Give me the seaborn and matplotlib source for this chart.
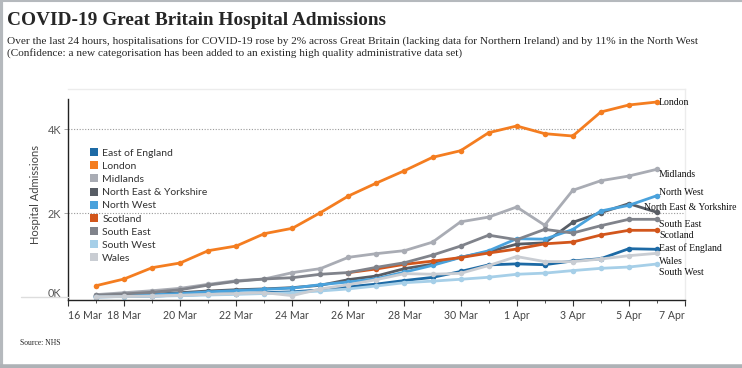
import numpy as np
import pandas as pd
import matplotlib
matplotlib.use("Agg")
import matplotlib.pyplot as plt
import matplotlib.dates as mdates
import matplotlib.transforms as mtransforms
from matplotlib.lines import Line2D
import seaborn as sns


# -----------------------
# Data (17 Mar - 6 Apr 2020)
# -----------------------

dates = pd.date_range("2020-03-17", "2020-04-06", freq="D")

regions = [
    "East of England", "London", "Midlands", "North East & Yorkshire",
    "North West", "Scotland", "South East", "South West", "Wales",
]

east_of_england = [10, 20, 30, 50, 70, 90, 110, 130, 174, 250, 315, 400, 474,
                   615, 772, 796, 776, 866, 920, 1157, 1143]
london = [276, 436, 705, 817, 1110, 1221, 1515, 1643, 2015, 2412, 2721, 3015,
          3333, 3490, 3919, 4079, 3896, 3840, 4412, 4579, 4650]
midlands = [64, 110, 157, 214, 310, 395, 436, 587, 683, 952, 1040, 1111, 1313,
            1797, 1910, 2150, 1717, 2548, 2776, 2888, 3048]
ne_yorkshire = [30, 50, 70, 110, 150, 180, 200, 230, 286, 421, 508, 683, 787,
                954, 1085, 1265, 1297, 1785, 2015, 2230, 2024]
north_west = [25, 45, 60, 90, 130, 160, 190, 220, 300, 365, 444, 600, 760,
              948, 1108, 1394, 1385, 1614, 2055, 2190, 2420]
scotland = [np.nan] * 9 + [587, 675, 786, 861, 946, 1054, 1149, 1273, 1316,
                           1483, 1595, 1595]
south_east = [50, 80, 120, 180, 290, 380, 436, 467, 548, 590, 714, 824, 1005,
              1220, 1479, 1372, 1618, 1530, 1705, 1857, 1857]
south_west = [10, 15, 25, 40, 55, 70, 90, 110, 150, 200, 270, 348, 385, 429,
              477, 548, 576, 636, 690, 721, 793]
wales = [10, 20, 30, 50, 70, 90, 110, 40, 200, 300, 420, 563, 550, 571, 757,
         970, 850, 850, 912, 991, 1047]

series = [east_of_england, london, midlands, ne_yorkshire, north_west,
          scotland, south_east, south_west, wales]

palette = {
    "East of England": "#1d6aa5",
    "London": "#f47d20",
    "Midlands": "#a9acb4",
    "North East & Yorkshire": "#585d65",
    "North West": "#4aa2dc",
    "Scotland": "#d2561c",
    "South East": "#80838b",
    "South West": "#a6cfe8",
    "Wales": "#c9cdd3",
}

# label offsets (pixels) from the last point
label_offset = {
    "London": (2, 0),
    "Midlands": (2, -5),
    "North West": (2, 3),
    "North East & Yorkshire": (-13, 5),
    "South East": (2, -5),
    "Scotland": (2, -5),
    "East of England": (2, 1),
    "Wales": (2, -8),
    "South West": (2, -9),
}

df = pd.DataFrame({
    "Date": np.tile(dates, len(regions)),
    "Region": np.repeat(regions, len(dates)),
    "Admissions": np.concatenate([np.array(s, dtype=float) for s in series]),
})


# -----------------------
# Figure
# -----------------------

sns.set_style("white")
plt.rcParams["font.family"] = ["Lato", "DejaVu Sans"]

fig = plt.figure(figsize=(7.42, 3.68), dpi=100)
ax = fig.add_axes([0.0916, 0.1848, 0.8315, 0.5734])

sns.lineplot(
    data=df.dropna(),
    x="Date",
    y="Admissions",
    hue="Region",
    hue_order=regions,
    palette=palette,
    marker="o",
    markersize=4,
    markeredgewidth=0,
    linewidth=2,
    legend=False,
    ax=ax,
)

ax.set_ylim(-64, 4960)
ax.set_xlim(pd.Timestamp("2020-03-16"), pd.Timestamp("2020-04-07"))

ax.set_yticks([0, 2000, 4000])
ax.set_yticklabels(["0K", "2K", "4K"])
ax.set_xticks(pd.date_range("2020-03-16", "2020-04-07", freq="2D"))
ax.xaxis.set_major_formatter(mdates.DateFormatter("%-d %b"))
ax.xaxis.set_minor_locator(mdates.DayLocator())

ax.tick_params(axis="x", which="major", length=4, width=0.8, color="#333333",
               labelsize=7.6, labelcolor="#444444", pad=3)
ax.tick_params(axis="x", which="minor", length=2, width=0.6, color="#333333")
ax.tick_params(axis="y", length=3, width=0.6, color="#999999",
               labelsize=7.8, labelcolor="#555555", pad=2)
ax.tick_params(bottom=True, left=True, which="both")

xt = ax.get_xticklabels()
xt[0].set_ha("left")
xt[-1].set_ha("right")

# lift the 0K label a little above the baseline
yt0 = ax.get_yticklabels()[0]
yt0.set_transform(yt0.get_transform() +
                  mtransforms.ScaledTranslation(0, 5 / 100, fig.dpi_scale_trans))

for yv in [2000, 4000]:
    ax.axhline(yv, color="#9a9a9a", linestyle=(0, (1, 1.5)), linewidth=0.8,
               zorder=0)

ax.set_xlabel("")
ax.set_ylabel("Hospital Admissions", fontsize=8, color="#444444", labelpad=5)

for side in ["top", "right"]:
    ax.spines[side].set_color("#ececec")
    ax.spines[side].set_linewidth(1)
ax.spines["left"].set_color("#222222")
ax.spines["left"].set_linewidth(1)
ax.spines["left"].set_bounds(-64, 4714)
ax.spines["bottom"].set_color("#222222")
ax.spines["bottom"].set_linewidth(1)

# end labels
for name, s in zip(regions, series):
    dx, dy = label_offset[name]
    ax.annotate(
        name,
        xy=(dates[-1], s[-1]),
        xytext=(dx, dy),
        textcoords="offset pixels",
        ha="left",
        va="center",
        fontsize=7,
        family="Liberation Serif",
        color="#111111",
    )

# legend with square handles
handles = [
    Line2D([], [], marker="s", linestyle="", markersize=5.5,
           markerfacecolor=palette[r], markeredgewidth=0)
    for r in regions
]
ax.legend(
    handles,
    regions,
    loc="upper left",
    bbox_to_anchor=(0.036, 0.718),
    frameon=False,
    fontsize=7.5,
    handlelength=0.7,
    handletextpad=0.45,
    labelspacing=0.37,
    borderaxespad=0,
    borderpad=0,
    labelcolor="#333333",
)

# -----------------------
# Titles and notes
# -----------------------

fig.text(0.0095, 0.945, "COVID-19 Great Britain Hospital Admissions",
         family="Liberation Serif", fontweight="bold", fontsize=13.9,
         va="center", ha="left")
fig.text(0.0095, 0.889,
         "Over the last 24 hours, hospitalisations for COVID-19 rose by 2% "
         "across Great Britain (lacking data for Northern Ireland) and by 11% "
         "in the North West",
         family="Liberation Serif", fontsize=8.1, va="center", ha="left")
fig.text(0.0095, 0.855,
         "(Confidence: a new categorisation has been added to an existing "
         "high quality administrative data set)",
         family="Liberation Serif", fontsize=8.1, va="center", ha="left")
fig.text(0.027, 0.068, "Source: NHS", family="Liberation Serif", fontsize=5.5,
         va="center", ha="left")

# small grey baseline stub left of axis and page frame
fig.add_artist(Line2D([0.028, 0.0916], [1 - 297 / 368, 1 - 297 / 368],
                      color="#dddddd", linewidth=1))
fig.add_artist(Line2D([0.002, 0.002], [0, 1], color="#b5b9bd", linewidth=3))
fig.add_artist(Line2D([0, 1], [0.996, 0.996], color="#b5b9bd", linewidth=1.5))
fig.add_artist(Line2D([0, 1], [0.004, 0.004], color="#aeb2b6", linewidth=4))

fig.savefig("out.png", dpi=100)
